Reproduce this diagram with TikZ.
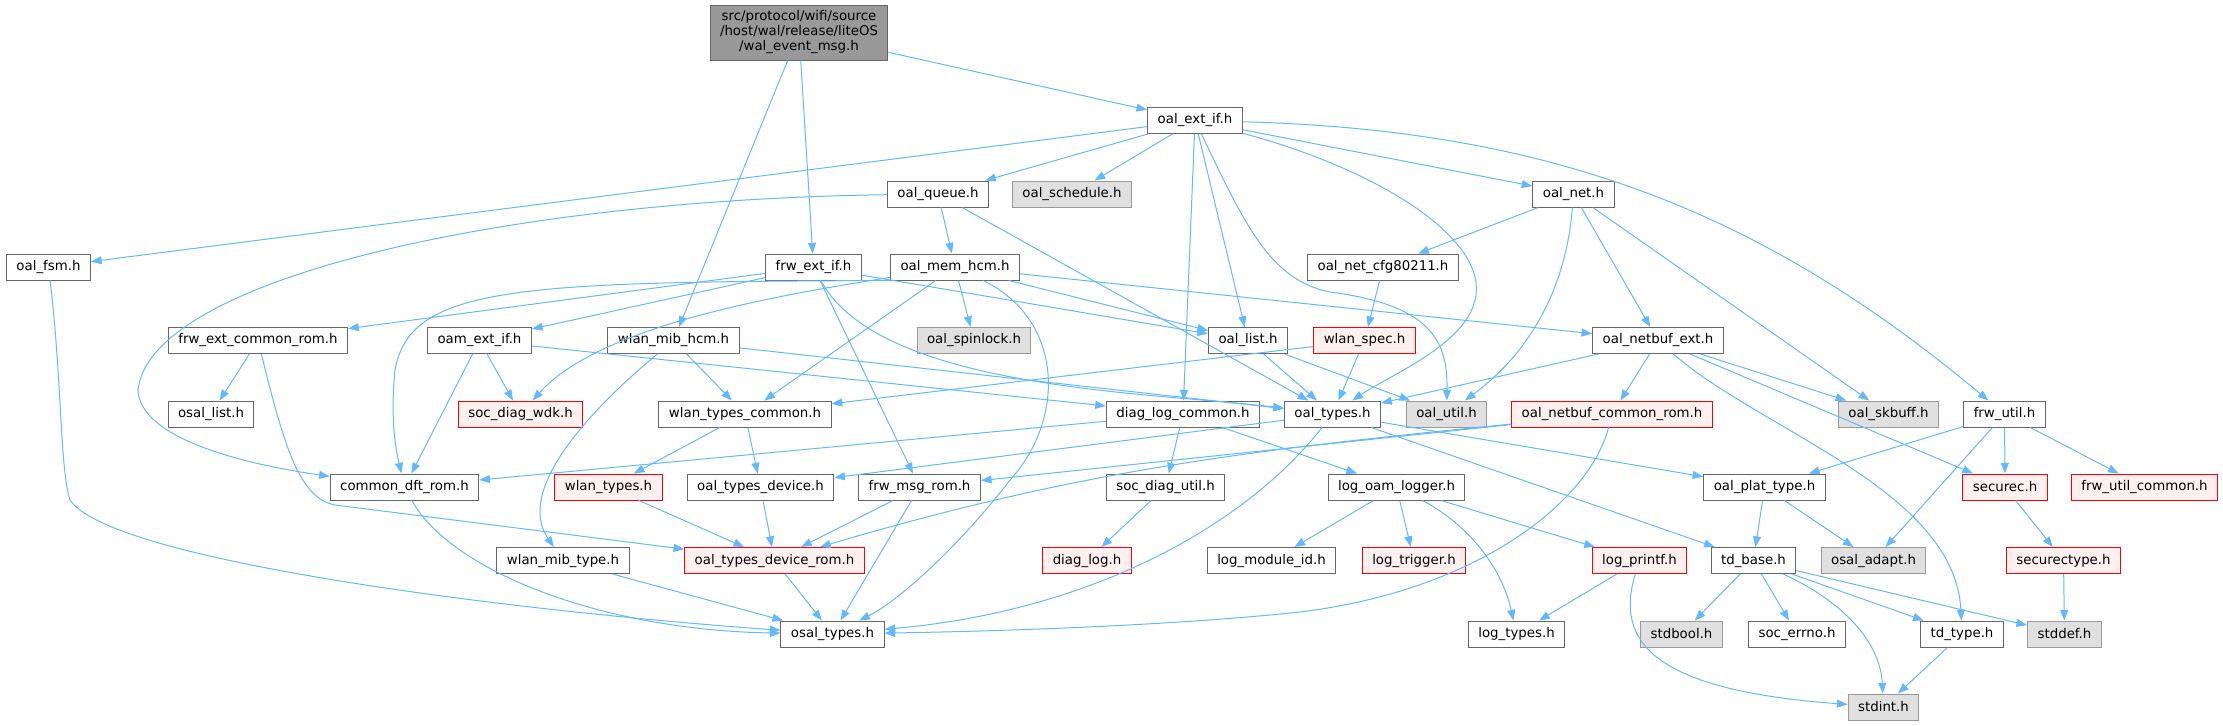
\documentclass[tikz,border=0pt]{standalone}
\usepackage{fontspec}
\setmainfont{DejaVu Sans}
\usetikzlibrary{arrows.meta}
\definecolor{eblue}{rgb}{0.39, 0.72, 1.0}
\definecolor{bgray}{rgb}{0.4, 0.4, 0.4}
\definecolor{rootgray}{rgb}{0.6, 0.6, 0.6}
\definecolor{ngray}{rgb}{0.88, 0.88, 0.88}
\definecolor{ngrayline}{rgb}{0.6, 0.6, 0.6}
\definecolor{nred}{rgb}{1.0, 0.94, 0.94}
\tikzset{hdr/.style = {draw = bgray, fill = white, line width = 0.75pt, inner xsep = 7.5pt, inner ysep = 0, minimum height = 19.5pt, font = \fontsize{10}{11.25}\selectfont}}
\tikzset{hdrgray/.style = {hdr, draw = ngrayline, fill = ngray}}
\tikzset{hdrred/.style = {hdr, draw = red, fill = nred}}
\tikzset{hdrroot/.style = {hdr, fill = rootgray, align = center, minimum width = 132pt, minimum height = 41.25pt}}
\tikzset{incl/.style = {draw = eblue, line width = 0.75pt, -{Triangle[length = 8pt, width = 6pt]}}}

\begin{document}
\begin{tikzpicture}[x = 0.75pt, y = -0.75pt]
    \useasboundingbox (0, 0) rectangle (2223, 725);

    \node [hdrroot] (root) at (799, 32.5) {src/protocol/wifi/source\\/host/wal/release/liteOS\\/wal\_event\_msg.h};
    \node [hdr] (oal-ext-if) at (1195, 120.5) {oal\_ext\_if.h};

    \node [hdr] (oal-queue) at (938, 194) {oal\_queue.h};
    \node [hdrgray] (oal-schedule) at (1072, 194) {oal\_schedule.h};
    \node [hdr] (oal-net) at (1573.5, 194) {oal\_net.h};

    \node [hdr] (oal-fsm) at (48.5, 267) {oal\_fsm.h};
    \node [hdr] (frw-ext-if) at (813.5, 267) {frw\_ext\_if.h};
    \node [hdr] (oal-mem-hcm) at (955, 267) {oal\_mem\_hcm.h};
    \node [hdr] (oal-net-cfg) at (1383, 267) {oal\_net\_cfg80211.h};

    \node [hdr] (frw-ext-common-rom) at (258, 340.5) {frw\_ext\_common\_rom.h};
    \node [hdr] (oam-ext-if) at (479.5, 340.5) {oam\_ext\_if.h};
    \node [hdr] (wlan-mib-hcm) at (673.5, 340.5) {wlan\_mib\_hcm.h};
    \node [hdrgray] (oal-spinlock) at (974, 340.5) {oal\_spinlock.h};
    \node [hdr] (oal-list) at (1248, 340.5) {oal\_list.h};
    \node [hdrred] (wlan-spec) at (1364.5, 340.5) {wlan\_spec.h};
    \node [hdr] (oal-netbuf-ext) at (1658, 340.5) {oal\_netbuf\_ext.h};

    \node [hdr] (osal-list) at (211, 414) {osal\_list.h};
    \node [hdrred] (soc-diag-wdk) at (520.5, 414) {soc\_diag\_wdk.h};
    \node [hdr] (wlan-types-common) at (745, 414) {wlan\_types\_common.h};
    \node [hdr] (diag-log-common) at (1183, 414) {diag\_log\_common.h};
    \node [hdr] (oal-types) at (1332.5, 414) {oal\_types.h};
    \node [hdrgray] (oal-util) at (1446.5, 414) {oal\_util.h};
    \node [hdrred] (oal-netbuf-common-rom) at (1612, 414) {oal\_netbuf\_common\_rom.h};
    \node [hdrgray] (oal-skbuff) at (1888.5, 414) {oal\_skbuff.h};
    \node [hdr] (frw-util) at (2004.5, 414) {frw\_util.h};

    \node [hdr] (common-dft-rom) at (404.5, 487) {common\_dft\_rom.h};
    \node [hdrred] (wlan-types) at (608.5, 487) {wlan\_types.h};
    \node [hdr] (oal-types-device) at (760.5, 487) {oal\_types\_device.h};
    \node [hdr] (frw-msg-rom) at (919.5, 487) {frw\_msg\_rom.h};
    \node [hdr] (soc-diag-util) at (1165.5, 487) {soc\_diag\_util.h};
    \node [hdr] (log-oam-logger) at (1396.5, 487) {log\_oam\_logger.h};
    \node [hdr] (oal-plat-type) at (1764.5, 487) {oal\_plat\_type.h};
    \node [hdrred] (securec) at (2005, 487) {securec.h};
    \node [hdrred] (frw-util-common) at (2144.5, 487) {frw\_util\_common.h};

    \node [hdr] (wlan-mib-type) at (563, 560.5) {wlan\_mib\_type.h};
    \node [hdrred] (oal-types-device-rom) at (774.5, 560.5) {oal\_types\_device\_rom.h};
    \node [hdrred] (diag-log) at (1087, 560.5) {diag\_log.h};
    \node [hdr] (log-module-id) at (1271.5, 560.5) {log\_module\_id.h};
    \node [hdrred] (log-trigger) at (1414, 560.5) {log\_trigger.h};
    \node [hdrred] (log-printf) at (1639.5, 560.5) {log\_printf.h};
    \node [hdr] (td-base) at (1753.5, 560.5) {td\_base.h};
    \node [hdrgray] (osal-adapt) at (1873.5, 560.5) {osal\_adapt.h};
    \node [hdrred] (securectype) at (2063.5, 560.5) {securectype.h};

    \node [hdr] (osal-types) at (832.5, 634) {osal\_types.h};
    \node [hdr] (log-types) at (1516.5, 634) {log\_types.h};
    \node [hdrgray] (stdbool) at (1681.5, 634) {stdbool.h};
    \node [hdr] (soc-errno) at (1797, 634) {soc\_errno.h};
    \node [hdr] (td-type) at (1962, 634) {td\_type.h};
    \node [hdrgray] (stddef) at (2064.5, 634) {stddef.h};
    \node [hdrgray] (stdint) at (1883.5, 707) {stdint.h};

    \draw [incl] (root) -- (oal-ext-if);
    \draw [incl] (root) -- (frw-ext-if);
    \draw [incl] (root) -- (wlan-mib-hcm);

    \draw [incl] (oal-ext-if) -- (oal-fsm);
    \draw [incl] (oal-ext-if) -- (oal-queue);
    \draw [incl] (oal-ext-if) -- (oal-schedule);
    \draw [incl] (oal-ext-if) -- (diag-log-common);
    \draw [incl] (oal-ext-if) -- (oal-list);
    \draw [incl] (oal-ext-if) .. controls (1245, 225) and (1270, 280) .. (1330, 292) .. controls (1430, 305) and (1448, 340) .. (oal-util);
    \draw [incl] (oal-ext-if) .. controls (1380, 170) and (1490, 240) .. (1475, 300) .. controls (1465, 345) and (1390, 375) .. (oal-types);
    \draw [incl] (oal-ext-if) -- (oal-net);
    \draw [incl] (oal-ext-if) .. controls (1550, 130) and (1760, 210) .. (frw-util);

    \draw [incl] (oal-queue) -- (oal-mem-hcm);
    \draw [incl] (oal-queue) -- (oal-types);
    \draw [incl] (oal-queue) .. controls (500, 200) and (150, 280) .. (138, 390) .. controls (140, 440) and (250, 465) .. (common-dft-rom);

    \draw [incl] (oal-net) -- (oal-net-cfg);
    \draw [incl] (oal-net) .. controls (1565, 300) and (1520, 360) .. (oal-util);
    \draw [incl] (oal-net) -- (oal-netbuf-ext);
    \draw [incl] (oal-net) -- (oal-skbuff);

    \draw [incl] (oal-fsm) .. controls (62, 380) and (60, 470) .. (70, 500) .. controls (110, 560) and (500, 610) .. (osal-types);

    \draw [incl] (frw-ext-if) -- (frw-ext-common-rom);
    \draw [incl] (frw-ext-if) -- (oam-ext-if);
    \draw [incl] (frw-ext-if) -- (oal-list);
    \draw [incl] (frw-ext-if) -- (frw-msg-rom);
    \draw [incl] (frw-ext-if) .. controls (880, 390) and (1150, 392) .. (oal-types);

    \draw [incl] (oal-mem-hcm) -- (oal-spinlock);
    \draw [incl] (oal-mem-hcm) -- (oal-list);
    \draw [incl] (oal-mem-hcm) -- (oal-netbuf-ext);
    \draw [incl] (oal-mem-hcm) -- (wlan-types-common);
    \draw [incl] (oal-mem-hcm) .. controls (1065, 320) and (1065, 420) .. (1010, 480) .. controls (960, 545) and (900, 600) .. (osal-types);
    \draw [incl] (oal-mem-hcm) .. controls (780, 295) and (600, 325) .. (soc-diag-wdk);
    \draw [incl] (oal-mem-hcm.south west) .. controls (520, 282) and (410, 285) .. (395, 370) .. controls (390, 420) and (396, 450) .. (common-dft-rom);

    \draw [incl] (oal-net-cfg) -- (wlan-spec);

    \draw [incl] (frw-ext-common-rom) -- (osal-list);
    \draw [incl] (frw-ext-common-rom) .. controls (285, 450) and (300, 498) .. (335, 505) -- (oal-types-device-rom);

    \draw [incl] (oam-ext-if) -- (common-dft-rom);
    \draw [incl] (oam-ext-if) -- (soc-diag-wdk);
    \draw [incl] (oam-ext-if) -- (diag-log-common);

    \draw [incl] (wlan-mib-hcm) -- (wlan-types-common);
    \draw [incl] (wlan-mib-hcm) -- (oal-types);
    \draw [incl] (wlan-mib-hcm) .. controls (590, 410) and (515, 490) .. (wlan-mib-type);

    \draw [incl] (oal-list) -- (oal-types);
    \draw [incl] (oal-list) -- (oal-util);

    \draw [incl] (wlan-spec) -- (oal-types);
    \draw [incl] (wlan-spec) -- (wlan-types-common);

    \draw [incl] (oal-netbuf-ext) -- (oal-types);
    \draw [incl] (oal-netbuf-ext) -- (oal-netbuf-common-rom);
    \draw [incl] (oal-netbuf-ext) -- (oal-skbuff);
    \draw [incl] (oal-netbuf-ext) -- (securec);
    \draw [incl] (oal-netbuf-ext) .. controls (1760, 430) and (1955, 490) .. (td-type);

    \draw [incl] (wlan-types-common) -- (wlan-types);
    \draw [incl] (wlan-types-common) -- (oal-types-device);

    \draw [incl] (diag-log-common) -- (common-dft-rom);
    \draw [incl] (diag-log-common) -- (soc-diag-util);
    \draw [incl] (diag-log-common) -- (log-oam-logger);

    \draw [incl] (oal-types) -- (td-base);
    \draw [incl] (oal-types) -- (oal-plat-type);
    \draw [incl] (oal-types) -- (oal-types-device);
    \draw [incl] (oal-types) .. controls (1250, 520) and (1100, 610) .. (osal-types);

    \draw [incl] (oal-netbuf-common-rom) -- (frw-msg-rom);
    \draw [incl] (oal-netbuf-common-rom) .. controls (1250, 450) and (1080, 470) .. (oal-types-device-rom);
    \draw [incl] (oal-netbuf-common-rom) .. controls (1590, 500) and (1480, 590) .. (1300, 612) .. controls (1150, 628) and (950, 632) .. (osal-types);

    \draw [incl] (frw-util) -- (oal-plat-type);
    \draw [incl] (frw-util) -- (osal-adapt);
    \draw [incl] (frw-util) -- (securec);
    \draw [incl] (frw-util) -- (frw-util-common);

    \draw [incl] (common-dft-rom) .. controls (450, 570) and (600, 630) .. (osal-types);
    \draw [incl] (wlan-types) -- (oal-types-device-rom);
    \draw [incl] (oal-types-device) -- (oal-types-device-rom);
    \draw [incl] (frw-msg-rom) -- (oal-types-device-rom);
    \draw [incl] (frw-msg-rom) -- (osal-types);
    \draw [incl] (soc-diag-util) -- (diag-log);
    \draw [incl] (log-oam-logger) -- (log-module-id);
    \draw [incl] (log-oam-logger) -- (log-trigger);
    \draw [incl] (log-oam-logger) -- (log-printf);
    \draw [incl] (log-oam-logger) .. controls (1460, 520) and (1500, 560) .. (log-types);
    \draw [incl] (oal-plat-type) -- (td-base);
    \draw [incl] (oal-plat-type) -- (osal-adapt);
    \draw [incl] (securec) -- (securectype);

    \draw [incl] (wlan-mib-type) -- (osal-types);
    \draw [incl] (oal-types-device-rom) -- (osal-types);
    \draw [incl] (log-printf) -- (log-types);
    \draw [incl] (log-printf) .. controls (1615, 640) and (1650, 690) .. (stdint);
    \draw [incl] (td-base) -- (stdbool);
    \draw [incl] (td-base) -- (soc-errno);
    \draw [incl] (td-base) -- (td-type);
    \draw [incl] (td-base) -- (stddef);
    \draw [incl] (td-base) .. controls (1840, 600) and (1880, 640) .. (stdint);
    \draw [incl] (securectype) -- (stddef);
    \draw [incl] (td-type) -- (stdint);
  \end{tikzpicture}
\end{document}
